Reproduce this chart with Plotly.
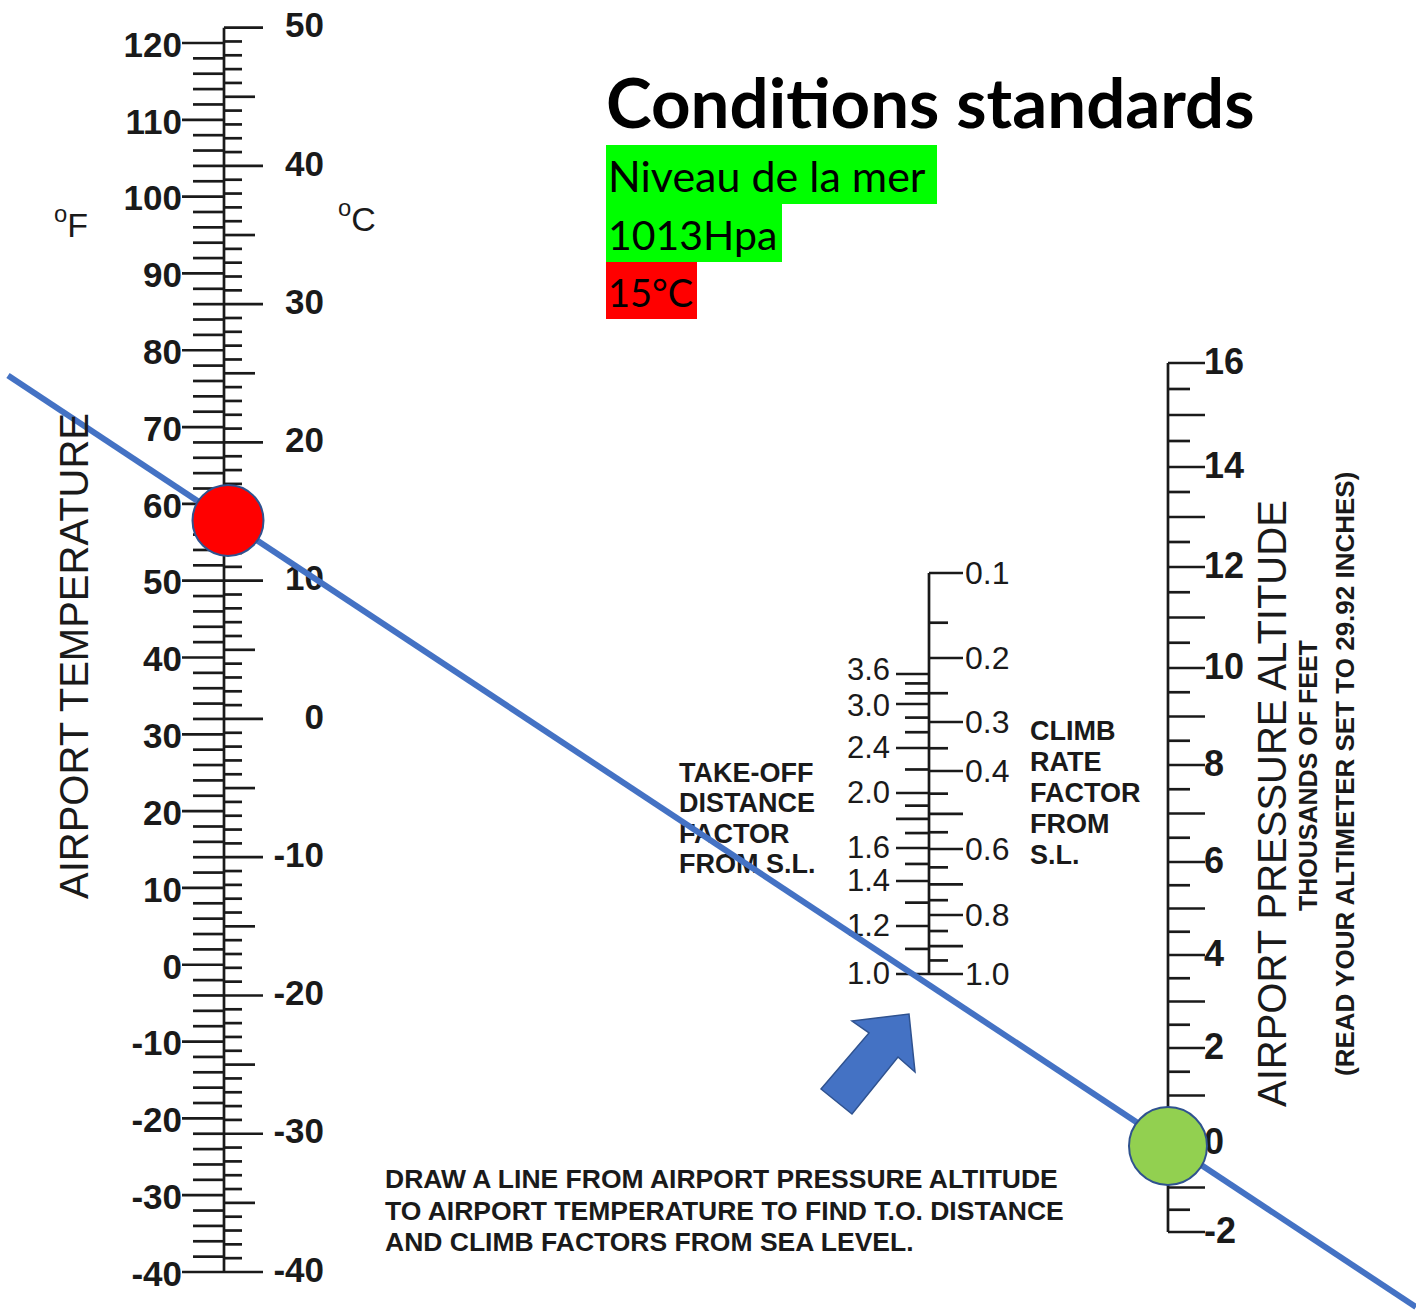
import numpy as np
import plotly.graph_objects as go

# ---------------- data ----------------
temp_f_major = list(range(-40, 121, 10))
temp_f_minor = list(range(-40, 121, 2))
temp_c_ticks = list(range(-40, 51, 1))
temp_c_major = list(range(-40, 51, 10))

takeoff_labels = [1.0, 1.2, 1.4, 1.6, 2.0, 2.4, 3.0, 3.6]
takeoff_ticks = [1.0, 1.1, 1.2, 1.3, 1.4, 1.5, 1.6, 1.7, 1.8, 1.9, 2.0,
                 2.2, 2.4, 2.6, 2.8, 3.0, 3.2, 3.4, 3.6]
takeoff_long = [1.0, 1.2, 1.4, 1.6, 1.8, 2.0, 2.4, 3.0, 3.6]

climb_labels = [0.1, 0.2, 0.3, 0.4, 0.6, 0.8, 1.0]
climb_ticks = [0.1, 0.15, 0.2, 0.25, 0.3, 0.35, 0.4, 0.45, 0.5, 0.55, 0.6,
               0.65, 0.7, 0.75, 0.8, 0.85, 0.9, 0.95, 1.0]
climb_long = [0.1, 0.2, 0.3, 0.4, 0.5, 0.6, 0.7, 0.8, 0.9, 1.0]

alt_labels = [16, 14, 12, 10, 8, 6, 4, 2, 0, -2]
alt_ticks = [v / 2 for v in range(-4, 33)]
alt_long = list(range(-2, 17))

std_temp_c = 14.5      # red marker (airport temperature)
std_alt = 0            # green marker (pressure altitude, thousands ft)

conditions_title = "Conditions standards"
conditions_lines = ["Niveau de la mer", "1013Hpa", "15°C"]
instructions = ["DRAW A LINE FROM AIRPORT PRESSURE ALTITUDE",
                "TO AIRPORT TEMPERATURE TO FIND T.O. DISTANCE",
                "AND CLIMB FACTORS FROM SEA LEVEL."]
takeoff_title = ["TAKE-OFF", "DISTANCE", "FACTOR", "FROM S.L."]
climb_title = ["CLIMB", "RATE", "FACTOR", "FROM", "S.L."]

# ---------------- scales (nomogram geometry) ----------------
TEMP_X, MID_X, ALT_X = 224, 929, 1168
F_TOP, F_BOT = 43, 1272


def y_f(f):
    return F_TOP + (120 - np.asarray(f, float)) * (F_BOT - F_TOP) / 160.0


def y_c(c):
    return y_f(np.asarray(c, float) * 9 / 5 + 32)


CLIMB_CAL = ([0.1, 0.2, 0.3, 0.4, 0.6, 0.8, 1.0], [573, 658, 722, 771, 849, 915, 974])
TO_CAL = ([1.0, 1.2, 1.4, 1.6, 2.0, 2.4, 3.0, 3.6], [974, 926, 881, 848, 793, 748, 704, 674])
ALT_CAL = ([-2, 0, 2, 4, 6, 8, 10, 12, 14, 16],
           [1232, 1143, 1048, 955, 862, 765, 668, 567, 467, 363])


def y_climb(v):
    return np.interp(np.log10(v), np.log10(CLIMB_CAL[0]), CLIMB_CAL[1])


def y_to(v):
    return np.interp(np.log10(v), np.log10(TO_CAL[0]), TO_CAL[1])


def y_alt(v):
    return np.interp(v, ALT_CAL[0], ALT_CAL[1])


INK = "#1a1a1a"
SANS = "Liberation Sans, Arial, sans-serif"
CAL = "Lato, Open Sans, sans-serif"


def ticks(x0, specs):
    X, Y = [], []
    for length, vals, fn in specs:
        for v in vals:
            y = float(fn(v))
            X += [x0, x0 + length, None]
            Y += [y, y, None]
    return X, Y


fig = go.Figure()


def add_lines(X, Y, width=2.7):
    fig.add_trace(go.Scatter(x=X, y=Y, mode="lines",
                             line=dict(color=INK, width=width),
                             hoverinfo="skip", showlegend=False))


def add_text(xs, ys, texts, pos, size, family=SANS, weight="normal", color=INK):
    fig.add_trace(go.Scatter(x=list(xs), y=[float(v) for v in ys], text=list(texts),
                             mode="text", textposition=pos,
                             textfont=dict(family=family, size=size, color=color, weight=weight),
                             hoverinfo="skip", showlegend=False))


# temperature scale
add_lines([TEMP_X, TEMP_X], [float(y_c(50)), float(y_f(-40))])
fmaj = set(temp_f_major)
X, Y = ticks(TEMP_X, [(-42, temp_f_major, y_f),
                      (-31, [v for v in temp_f_minor if v not in fmaj], y_f),
                      (39, [v for v in temp_c_ticks if v % 10 == 0], y_c),
                      (31, [v for v in temp_c_ticks if v % 10 == 5], y_c),
                      (18, [v for v in temp_c_ticks if v % 5 != 0], y_c)])
add_lines(X, Y)
add_text([TEMP_X - 42] * len(temp_f_major), y_f(temp_f_major) + 5,
         [str(v) for v in temp_f_major], "middle left", 35, weight="bold")
add_text([TEMP_X + 100] * len(temp_c_major), y_c(temp_c_major) + 1,
         [str(v) for v in temp_c_major], "middle left", 35, weight="bold")
add_text([54, 338], [228, 222], ["<sup>o</sup>F", "<sup>o</sup>C"], "middle right", 34)

# middle scale
add_lines([MID_X, MID_X], [float(y_climb(0.1)), float(y_to(1.0))])
lg = set(takeoff_long)
cl = set(climb_long)
X, Y = ticks(MID_X, [(-33, takeoff_long, y_to),
                     (-24, [v for v in takeoff_ticks if v not in lg], y_to),
                     (34, climb_long, y_climb),
                     (19, [v for v in climb_ticks if v not in cl], y_climb)])
add_lines(X, Y)
# the two crowded top labels are spread slightly apart, as on the original
to_nudge = np.array([2 if v < 3.0 else (4 if v == 3.0 else -2) for v in takeoff_labels])
add_text([MID_X - 39] * len(takeoff_labels), y_to(takeoff_labels) + to_nudge,
         [f"{v:.1f}" for v in takeoff_labels], "middle left", 31)
add_text([MID_X + 36] * len(climb_labels), y_climb(climb_labels) + 3,
         [f"{v:.1f}" for v in climb_labels], "middle right", 32)
add_text([679] * len(takeoff_title), [775, 805, 836, 866], takeoff_title,
         "middle right", 27, weight="bold")
add_text([1030] * len(climb_title), [733, 764, 795, 826, 857], climb_title,
         "middle right", 27, weight="bold")

# altitude scale
add_lines([ALT_X, ALT_X], [float(y_alt(16)), float(y_alt(-2))])
al = set(alt_long)
X, Y = ticks(ALT_X, [(37, alt_long, y_alt),
                     (22, [v for v in alt_ticks if v not in al], y_alt)])
add_lines(X, Y)
add_text([ALT_X + 36] * len(alt_labels), y_alt(alt_labels) + 2,
         [str(v) for v in alt_labels], "middle right", 36, weight="bold")

# instructions
add_text([385] * len(instructions), [1181, 1213, 1244], instructions,
         "middle right", 26.5, weight="bold")

# the construction line through the two standard points
p1 = (TEMP_X, float(y_c(std_temp_c)))
p2 = (ALT_X, float(y_alt(std_alt)))
slope = (p2[1] - p1[1]) / (p2[0] - p1[0])
lx = [8, 1416]
ly = [p1[1] + slope * (x - p1[0]) for x in lx]
fig.add_trace(go.Scatter(x=lx, y=ly, mode="lines",
                         line=dict(color="#4472C4", width=6),
                         hoverinfo="skip", showlegend=False))
fig.add_trace(go.Scatter(x=[p1[0] + 4], y=[p1[1] + 2], mode="markers",
                         marker=dict(size=71, color="#FF0000",
                                     line=dict(color="#2F528F", width=2)),
                         hoverinfo="skip", showlegend=False))
fig.add_trace(go.Scatter(x=[p2[0]], y=[p2[1] + 3], mode="markers",
                         marker=dict(size=78, color="#92D050",
                                     line=dict(color="#2F528F", width=2)),
                         hoverinfo="skip", showlegend=False))

# rotated axis titles and the conditions block
ann = [
    dict(x=74, y=656, text="AIRPORT TEMPERATURE", textangle=-90,
         font=dict(family=SANS, size=40, color=INK)),
    dict(x=1272, y=804, text="AIRPORT PRESSURE ALTITUDE", textangle=-90,
         font=dict(family=SANS, size=40, color=INK)),
    dict(x=1308, y=776, text="THOUSANDS OF FEET", textangle=-90,
         font=dict(family=SANS, size=25, color=INK, weight="bold")),
    dict(x=1345, y=774, text="(READ YOUR ALTIMETER SET TO 29.92 INCHES)", textangle=-90,
         font=dict(family=SANS, size=26, color=INK, weight="bold")),
    dict(x=604, y=101, text=conditions_title, xanchor="left",
         font=dict(family=CAL, size=69, color="black", weight="bold")),
]
box_specs = [("#00FF00", 937, 145, 204, 43), ("#00FF00", 782, 204, 262, 41),
             ("#FF0000", 697, 262, 319, 38)]
shapes = []
for t, (c, x1, y0, y1, fs) in zip(conditions_lines, box_specs):
    shapes.append(dict(type="rect", xref="x", yref="y", x0=606, x1=x1, y0=y0, y1=y1,
                       fillcolor=c, line=dict(width=0), layer="below"))
    ann.append(dict(x=606, y=(y0 + y1) / 2 + 1, text=t, xanchor="left",
                    font=dict(family=CAL, size=fs, color="black")))
for a in ann:
    a.update(xref="x", yref="y", showarrow=False)
    a.setdefault("xanchor", "center")
    a.setdefault("yanchor", "middle")

# block arrow pointing at the 1.0 marks
arrow = "M 821 1089 L 869 1033 L 852 1021 L 909 1014 L 915 1072 L 898 1057 L 852 1114 Z"
shapes.append(dict(type="path", path=arrow, xref="x", yref="y",
                   fillcolor="#4472C4", line=dict(color="#2F528F", width=1.5)))

fig.update_layout(
    width=1416, height=1310, margin=dict(l=0, r=0, t=0, b=0),
    paper_bgcolor="white", plot_bgcolor="white",
    xaxis=dict(range=[0, 1416], visible=False, fixedrange=True),
    yaxis=dict(range=[1310, 0], visible=False, fixedrange=True),
    annotations=ann,
    shapes=shapes,
    showlegend=False,
)
fig.write_html("out.html", config={"displayModeBar": False},
               post_script="document.body.style.margin='0px';document.body.style.overflow='hidden';")
